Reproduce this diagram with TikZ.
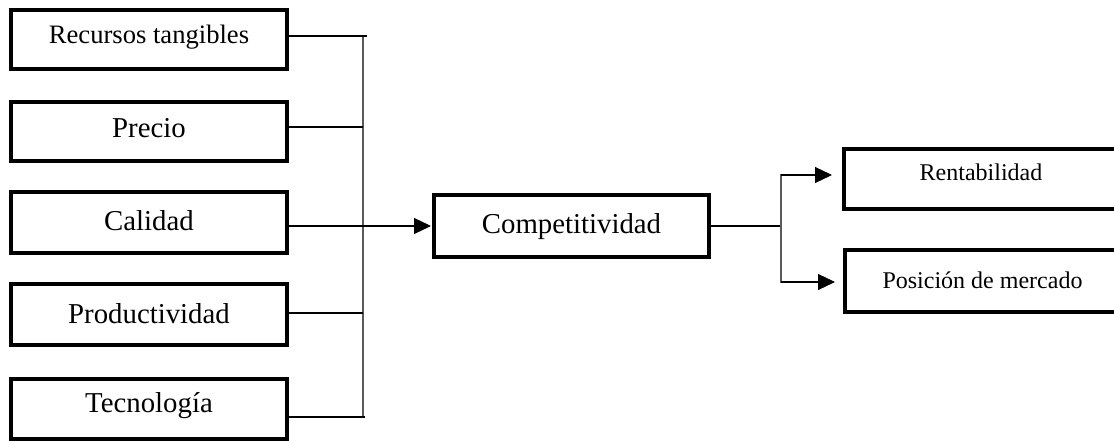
\documentclass[tikz,border=0pt]{standalone}
\usepackage{fontspec}
\setmainfont{Liberation Serif}
\usetikzlibrary{arrows.meta}
\definecolor{busgray}{RGB}{90,90,90}
\begin{document}
\begin{tikzpicture}[x=1pt,y=-1pt,
  box/.style={draw=black, line width=4pt, rectangle, inner sep=0pt, align=center, text depth=0pt},
  big/.style={font=\fontsize{28.8}{34}\selectfont},
  mid/.style={font=\fontsize{26.6}{32}\selectfont},
  small/.style={font=\fontsize{24}{29}\selectfont},
  lb/.style={text height=#1},
  wire/.style={line width=1.2pt, black},
  bus/.style={line width=2pt, busgray},
  tip/.style={-{Triangle[length=17pt,width=16pt]}}
]
\useasboundingbox (0,0) rectangle (1114,441);
\clip (0,0) rectangle (1114,441);

% factors on the left
\node[box,mid,lb=9pt,minimum width=276pt,minimum height=59pt] (rt) at (149,39.5) {Recursos tangibles};
\node[box,big,lb=13pt,minimum width=276pt,minimum height=59pt] (pr) at (149,131.5) {Precio};
\node[box,big,lb=15pt,minimum width=276pt,minimum height=61pt] (ca) at (149,222.5) {Calidad};
\node[box,big,lb=17pt,minimum width=276pt,minimum height=61pt] (pd) at (149,314.5) {Productividad};
\node[box,big,lb=6pt,minimum width=276pt,minimum height=60pt] (te) at (149,409) {Tecnología};

% central result
\node[box,big,lb=14pt,minimum width=275pt,minimum height=62pt] (co) at (571.5,226) {Competitividad};

% outcomes on the right
\node[box,small,lb=4pt,minimum width=274pt,minimum height=60pt] (re) at (981,179) {Rentabilidad};
\node[box,small,lb=14pt,minimum width=275pt,minimum height=62pt] (po) at (982.5,281) {Posición de mercado};

% left collector bus
\coordinate (ltop) at (363,36);
\coordinate (lbot) at (363,417);
\draw[bus] (ltop) -- (lbot);
\draw[wire] ([yshift=3.5pt]rt.east) -- ++(78,0);
\draw[wire] ([yshift=4.5pt]pr.east) -- ++(74,0);
\draw[wire] ([yshift=1.5pt]pd.east) -- ++(74,0);
\draw[wire] ([yshift=-8pt]te.east) -- ++(76,0);
\draw[wire,tip,shorten >=1pt] (ca.east |- co.west) -- (co.west);

% right distribution bus
\coordinate (rtop) at (781,175);
\coordinate (rbot) at (781,282);
\draw[wire] (co.east) -- (co.east -| rtop);
\draw[bus] ([yshift=1pt]rtop) -- ([yshift=-1pt]rbot);
\draw[wire,tip,shorten >=10pt] (rtop) -- ([yshift=4pt]re.west);
\draw[wire,tip,shorten >=8pt] (rbot) -- ([yshift=-1pt]po.west);
\end{tikzpicture}
\end{document}
